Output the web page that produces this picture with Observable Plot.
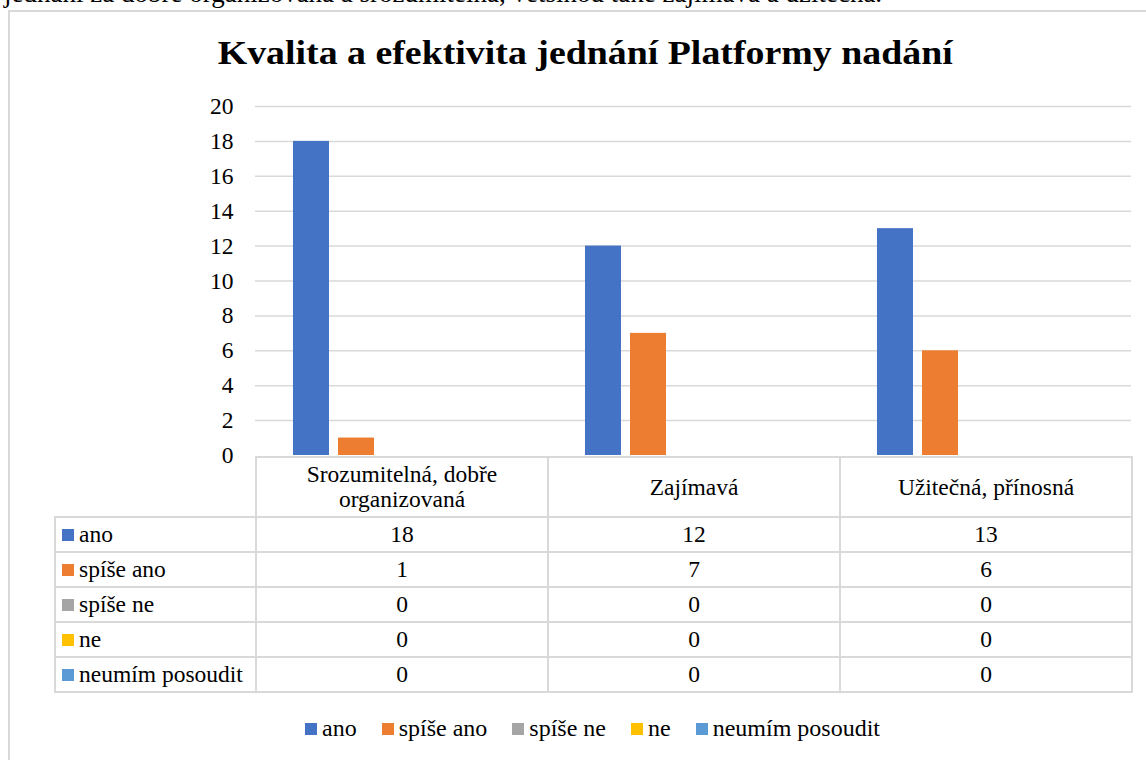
<!DOCTYPE html>
<html>
<head>
<meta charset="utf-8">
<script src="https://cdn.jsdelivr.net/npm/d3@7"></script>
<script src="https://cdn.jsdelivr.net/npm/@observablehq/plot@0.6"></script>
<style>
  html, body { margin: 0; padding: 0; background: #fff; overflow: hidden; }
  body { width: 1146px; height: 760px; position: relative; font-family: "Liberation Serif", "Times New Roman", serif; color: #000; }
  #toptext { position: absolute; left: 4px; top: -22px; font-size: 27px; white-space: nowrap; }
  #frame { position: absolute; left: 8px; top: 10px; width: 1200px; height: 800px; border: 2px solid #d9d9d9; box-sizing: border-box; }
  #title { position: absolute; left: 0; width: 1170px; top: 34px; text-align: center; }
  #title span { display: inline-block; font-weight: bold; font-size: 33.5px; transform: scaleX(1.13); transform-origin: center; white-space: nowrap; }
  #chart { position: absolute; left: 0; top: 90px; }
  #tbl { position: absolute; left: 54px; top: 456px; border-collapse: collapse; table-layout: fixed; font-size: 23.5px; }
  #tbl td, #tbl th { border: 2px solid #d9d9d9; padding: 0; font-weight: normal; text-align: center; line-height: 25px; white-space: nowrap; }
  #tbl th.blank { border: none; }
  #tbl tr.head th { height: 58px; }
  #tbl tr.row td { height: 33px; }
  #tbl td.lab { text-align: left; padding-left: 6px; }
  .sw { display: inline-block; width: 12px; height: 12px; margin-right: 5px; vertical-align: 1px; }
  #legend { position: absolute; left: 0; width: 1185px; top: 715px; display: flex; justify-content: center; gap: 25px; font-size: 24px; }
  #legend .sw { width: 12px; height: 12px; margin-right: 5px; }
</style>
</head>
<body>
<div id="toptext">jednání za dobře organizovaná a srozumitelná, většinou také zajímavá a užitečná.</div>
<div id="frame"></div>
<div id="title"><span>Kvalita a efektivita jednání Platformy nadání</span></div>
<div id="chart"></div>
<table id="tbl"></table>
<div id="legend"></div>
<script>
const categories = ["Srozumitelná, dobře organizovaná", "Zajímavá", "Užitečná, přínosná"];
const categoryLines = [["Srozumitelná, dobře", "organizovaná"], ["Zajímavá"], ["Užitečná, přínosná"]];
const series = ["ano", "spíše ano", "spíše ne", "ne", "neumím posoudit"];
const ano = [18, 12, 13];
const spiseAno = [1, 7, 6];
const spiseNe = [0, 0, 0];
const ne = [0, 0, 0];
const neumim = [0, 0, 0];
const colors = ["#4472C4", "#ED7D31", "#A5A5A5", "#FFC000", "#5B9BD5"];
const yTicks = [0, 2, 4, 6, 8, 10, 12, 14, 16, 18, 20];

const seriesValues = [ano, spiseAno, spiseNe, ne, neumim];
const data = [];
series.forEach((s, si) => categories.forEach((c, ci) => data.push({cat: c, series: s, value: seriesValues[si][ci]})));

const chart = Plot.plot({
  width: 1146,
  height: 395,
  marginLeft: 255,
  marginRight: 15,
  marginTop: 16,
  marginBottom: 30,
  style: {fontFamily: "Liberation Serif, serif", fontSize: "23.5px", color: "#000", background: "transparent", overflow: "visible"},
  fx: {domain: categories, padding: 0, axis: null},
  x: {domain: series, paddingInner: 0.2, paddingOuter: 0.844, axis: null},
  y: {domain: [0, 20], ticks: yTicks, tickSize: 0, tickPadding: 22, label: null, tickFormat: d => String(d)},
  color: {domain: series, range: colors},
  marks: [
    Plot.ruleY(yTicks.filter(d => d > 0), {stroke: "#d9d9d9", strokeWidth: 1.5, strokeOpacity: 1}),
    Plot.barY(data, {fx: "cat", x: "series", y: "value", fill: "series"})
  ]
});
document.getElementById("chart").appendChild(chart);

// data table
const tbl = document.getElementById("tbl");
const colgroup = document.createElement("colgroup");
[201, 292, 292, 292].forEach(w => { const c = document.createElement("col"); c.style.width = w + "px"; colgroup.appendChild(c); });
tbl.appendChild(colgroup);
const head = document.createElement("tr");
head.className = "head";
const blank = document.createElement("th"); blank.className = "blank"; head.appendChild(blank);
categoryLines.forEach(lines => { const th = document.createElement("th"); th.innerHTML = lines.join("<br>"); head.appendChild(th); });
tbl.appendChild(head);
series.forEach((s, si) => {
  const tr = document.createElement("tr"); tr.className = "row";
  const lab = document.createElement("td"); lab.className = "lab";
  lab.innerHTML = `<span class="sw" style="background:${colors[si]}"></span>${s}`;
  tr.appendChild(lab);
  seriesValues[si].forEach(v => { const td = document.createElement("td"); td.textContent = v; tr.appendChild(td); });
  tbl.appendChild(tr);
});

// legend
const legend = document.getElementById("legend");
series.forEach((s, si) => {
  const it = document.createElement("div");
  it.innerHTML = `<span class="sw" style="background:${colors[si]}"></span>${s}`;
  legend.appendChild(it);
});
</script>
</body>
</html>
